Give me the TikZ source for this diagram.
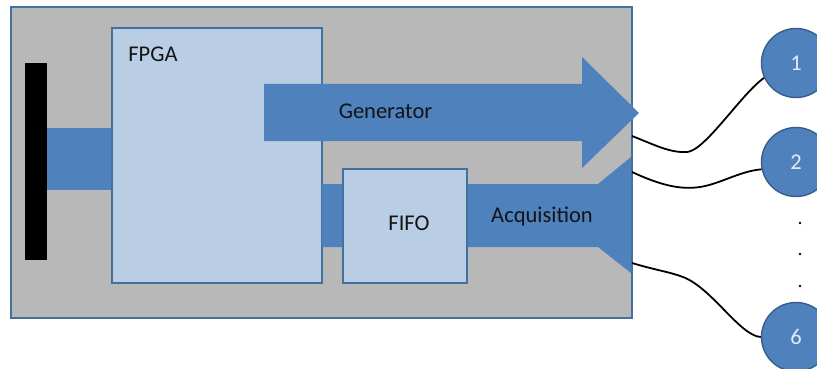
\documentclass[tikz,border=0pt]{standalone}
\usepackage{fontspec}
\setmainfont{Carlito}
\definecolor{boxgray}{HTML}{B8B8B8}
\definecolor{edgeblue}{HTML}{41719C}
\definecolor{paleblue}{HTML}{B9CDE5}
\definecolor{flowblue}{HTML}{4F81BD}
\definecolor{ringblue}{HTML}{385D8A}
\definecolor{labelwhite}{HTML}{E4EBF3}
\begin{document}
\begin{tikzpicture}[x=1pt,y=-1pt,
  lbl/.style={font=\fontsize{22.5}{27}\selectfont, text=black!92, inner sep=0pt},
  block/.style={draw=edgeblue, line width=1.6pt, rectangle, inner sep=0pt},
  flow/.style={fill=flowblue, draw=none},
  port/.style={circle, fill=flowblue, draw=ringblue, line width=1.4pt,
    minimum size=69pt, inner sep=0pt, text=labelwhite,
    font=\fontsize{22.5}{27}\selectfont},
  wire/.style={draw=black, line width=1.8pt}]
\useasboundingbox (0,0) rectangle (817,369);

% board
\node[block, fill=boxgray, minimum width=621pt, minimum height=311pt] (board) at (321.5,162.5) {};

% connector on the left edge
\node[fill=black, minimum width=22pt, minimum height=197pt, inner sep=0pt] (plug) at (36,161.5) {};
\fill[flow] (47,128) rectangle (113,190);

% FPGA
\node[block, fill=paleblue, minimum width=210pt, minimum height=255pt] (fpga) at (217,155.5) {};
\node[lbl] (fpgalbl) at (153,54) {FPGA};

% acquisition path (into the FIFO, widening towards the board edge)
\fill[flow] (322,184) -- (598,184) -- (631,157) -- (631,273) -- (598,247) -- (322,247) -- cycle;

% FIFO
\node[block, fill=paleblue, minimum width=124pt, minimum height=114pt] (fifo) at (405,226) {};
\node[lbl] (fifolbl) at (409,223) {FIFO};
\node[lbl] (acqlbl) at (542,217) {Acquisition};

% generator arrow
\fill[flow] (264,84) -- (582,84) -- (582,57) -- (639,113) -- (582,168) -- (582,141) -- (264,141) -- cycle;
\node[lbl] (genlbl) at (385.5,111) {Generator};

% channels
\node[port] (c1) at (796,63) {1};
\node[port] (c2) at (796,162) {2};
\node[port] (c6) at (796,337) {6};
\foreach \yy/\nm in {223/d1,254/d2,286/d3}
  \node[circle, fill=black, minimum size=2.6pt, inner sep=0pt] (\nm) at (800,\yy) {};

% cables
\coordinate (w1) at (632,136);
\coordinate (w2) at (632,172);
\coordinate (w6) at (632,263);
\path[wire] (w1) .. controls (655,145) and (670,153) .. (687,152)
  .. controls (705,151) and (742,93) .. (c1.205);
\path[wire] (w2) .. controls (660,185) and (680,190) .. (700,187)
  .. controls (720,184) and (740,171) .. (c2.192);
\path[wire] (w6) .. controls (655,270) and (670,272) .. (683,277)
  .. controls (712,288) and (740,336) .. (c6.180);
\end{tikzpicture}
\end{document}
